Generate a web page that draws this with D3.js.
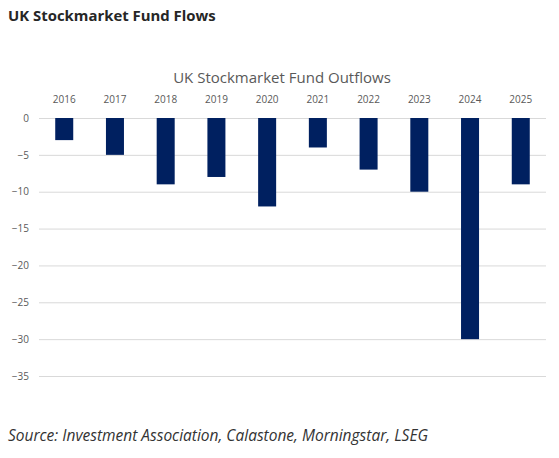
<!DOCTYPE html>
<html>
<head>
<meta charset="utf-8">
<script src="https://cdn.jsdelivr.net/npm/d3@7"></script>
<style>
	body { margin: 0; background: #fff; }
	svg text { font-family: 'Open Sans', sans-serif; }
</style>
</head>
<body>
<div id="chart"></div>
<script>
const years = ['2016', '2017', '2018', '2019', '2020', '2021', '2022', '2023', '2024', '2025'];
const outflows = [-3, -5, -9, -8, -12, -4, -7, -10, -30, -9];
const yTicks = [0, -5, -10, -15, -20, -25, -30, -35];

const width = 559;
const height = 458;

const svg = d3.select('#chart').append('svg').attr('width', width).attr('height', height);

svg
	.append('text')
	.attr('x', 8)
	.attr('y', 21)
	.attr('font-size', 14.9)
	.attr('font-weight', 'bold')
	.attr('fill', '#262626')
	.text('UK Stockmarket Fund Flows');

svg
	.append('text')
	.attr('x', 282)
	.attr('y', 83)
	.attr('text-anchor', 'middle')
	.attr('font-size', 15)
	.attr('fill', '#595959')
	.text('UK Stockmarket Fund Outflows');

const xScale = d3.scaleBand().domain(years).range([39, 546]).paddingInner(0.645).paddingOuter(0.32);
const yScale = d3.scaleLinear().domain([0, -35]).range([118, 376]);

// gridlines + y labels
const yAxis = d3.axisLeft(yScale).tickValues(yTicks).tickSize(-(546 - 39)).tickPadding(10).tickFormat(d3.format('d'));
const yg = svg.append('g').attr('transform', 'translate(39,0)').call(yAxis);
yg.select('.domain').remove();
yg.selectAll('.tick line').attr('stroke', '#d9d9d9').attr('stroke-width', 1);
yg.selectAll('.tick text').attr('fill', '#595959').attr('font-size', 10).attr('font-family', 'Open Sans, sans-serif');

// year labels on top
const xAxis = d3.axisTop(xScale).tickSize(0).tickPadding(10);
const xg = svg.append('g').attr('transform', 'translate(0,113)').call(xAxis);
xg.select('.domain').remove();
xg.selectAll('.tick text').attr('fill', '#595959').attr('font-size', 10).attr('font-family', 'Open Sans, sans-serif');

svg
	.selectAll('rect.bar')
	.data(outflows)
	.enter()
	.append('rect')
	.attr('class', 'bar')
	.attr('x', (d, i) => xScale(years[i]))
	.attr('y', yScale(0))
	.attr('width', xScale.bandwidth())
	.attr('height', (d) => yScale(d) - yScale(0))
	.attr('fill', '#002060');

svg
	.append('text')
	.attr('x', 8)
	.attr('y', 441)
	.attr('font-size', 15.5)
	.attr('font-style', 'italic')
	.attr('fill', '#333')
	.text('Source: Investment Association, Calastone, Morningstar, LSEG');
</script>
</body>
</html>
